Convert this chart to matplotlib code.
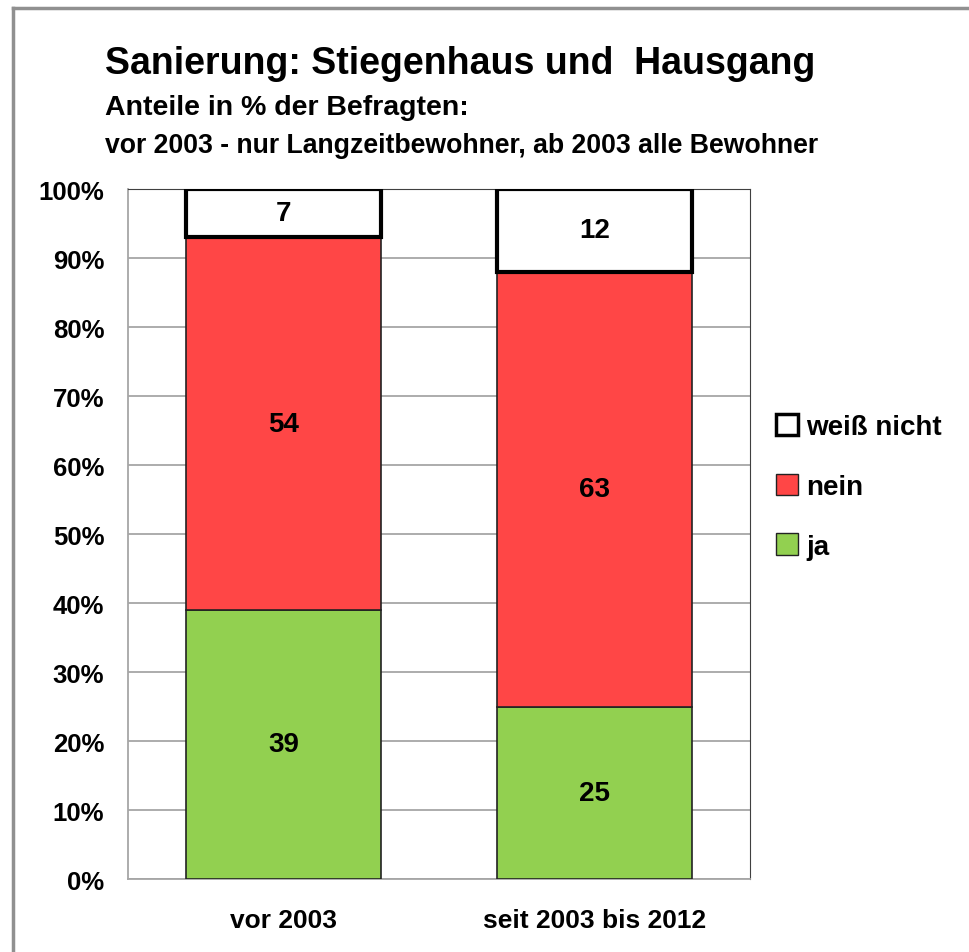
import matplotlib
matplotlib.use("Agg")
import matplotlib.pyplot as plt
import numpy as np
from matplotlib.lines import Line2D
from matplotlib.patches import Patch

plt.rcParams['font.family'] = ['Liberation Sans', 'DejaVu Sans']
plt.rcParams['font.weight'] = 'bold'

kategorien = ['vor 2003', 'seit 2003 bis 2012']
ja = [39, 25]
nein = [54, 63]
weiss_nicht = [7, 12]

fig = plt.figure(figsize=(9.69, 9.53), dpi=100)
ax = fig.add_axes([0.132, 0.0766, 0.642, 0.724])

x = np.arange(len(kategorien))
w = 0.627
b1 = ax.bar(x, ja, w, color='#92D050', edgecolor='#222222', linewidth=1.2, zorder=3, label='ja')
b2 = ax.bar(x, nein, w, bottom=ja, color='#FF4646', edgecolor='#222222', linewidth=1.2, zorder=3, label='nein')
unten = np.array(ja) + np.array(nein)
b3 = ax.bar(x, weiss_nicht, w, bottom=unten, color='white', edgecolor='black', linewidth=3, zorder=3, label='weiß nicht')

for bars, vals in ((b1, ja), (b2, nein), (b3, weiss_nicht)):
    ax.bar_label(bars, labels=[str(v) for v in vals], label_type='center',
                 fontsize=20, fontweight='bold', color='black')

ax.set_xlim(-0.5, 1.5)
ax.set_ylim(0, 100)
ax.set_yticks(np.arange(0, 101, 10))
ax.set_yticklabels([f'{v}%' for v in range(0, 101, 10)], fontsize=18.5, fontweight='bold')
ax.set_xticks(x)
ax.set_xticklabels(kategorien, fontsize=19, fontweight='bold')
ax.tick_params(axis='y', length=0, pad=17)
ax.tick_params(axis='x', length=0, pad=21)
ax.yaxis.grid(True, color='#A6A6A6', linewidth=1.3, zorder=0)
ax.set_axisbelow(True)
for s in ('left', 'bottom'):
    ax.spines[s].set_color('#A6A6A6')
    ax.spines[s].set_linewidth(1.3)
ax.spines['right'].set_color('#404040')
ax.spines['top'].set_color('#404040')

handles = [Patch(facecolor='white', edgecolor='black', linewidth=2.5),
           Patch(facecolor='#FF4646', edgecolor='#222222'),
           Patch(facecolor='#92D050', edgecolor='#222222')]
fig.legend(handles, ['weiß nicht', 'nein', 'ja'], loc='center left',
           bbox_to_anchor=(0.775, 0.488), frameon=False, handlelength=0.8, handleheight=0.8,
           handletextpad=0.3, labelspacing=1.2, prop={'weight': 'bold', 'size': 20})

fig.text(0.108, 0.933, 'Sanierung: Stiegenhaus und  Hausgang', fontsize=27, fontweight='bold', va='center')
fig.text(0.108, 0.887, 'Anteile in % der Befragten:', fontsize=20.5, fontweight='bold', va='center')
fig.text(0.108, 0.847, 'vor 2003 - nur Langzeitbewohner, ab 2003 alle Bewohner', fontsize=19.2,
         fontweight='bold', va='center')

# Rahmen oben und links
fig.add_artist(Line2D([0.0134, 1.0], [0.991, 0.991], color='#909090', linewidth=2.5))
fig.add_artist(Line2D([0.0134, 0.0134], [0.0, 0.991], color='#909090', linewidth=2.5))

fig.savefig('out.png', dpi=100)
